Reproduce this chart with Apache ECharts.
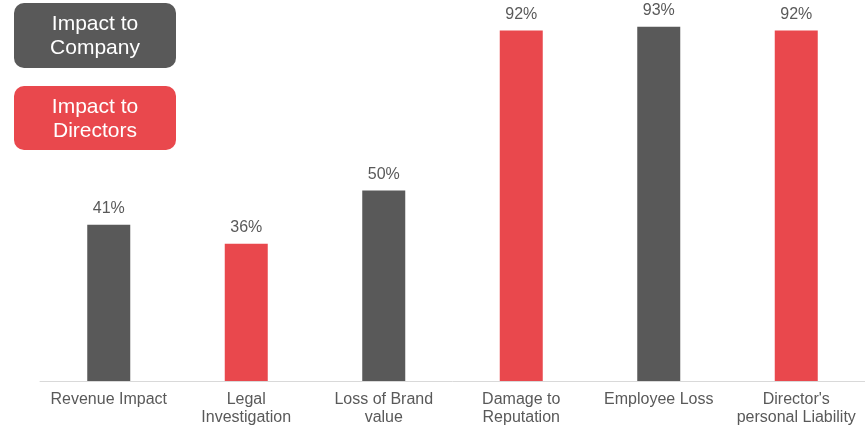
<!DOCTYPE html>
<html>
<head>
<meta charset="utf-8">
<script src="https://cdn.jsdelivr.net/npm/echarts@6/dist/echarts.min.js"></script>
<style>html,body{margin:0;padding:0;background:#fff;}#c{width:865px;height:428px;}</style>
</head>
<body>
<div id="c"></div>
<script>
const categories = ['Revenue Impact', 'Legal\nInvestigation', 'Loss of Brand\nvalue', 'Damage to\nReputation', 'Employee Loss', "Director's\npersonal Liability"];
const values = [41, 36, 50, 92, 93, 92];
const groups = ['Company', 'Directors', 'Company', 'Directors', 'Company', 'Directors'];
const legendLabels = ['Impact to\nCompany', 'Impact to\nDirectors'];

const colorOf = { Company: '#595959', Directors: '#E9484D' };
const font = '"Liberation Sans", Arial, sans-serif';

const chart = echarts.init(document.getElementById('c'));
chart.setOption({
  animation: false,
  grid: { left: 40, right: 0, top: -2, bottom: 47, containLabel: false },
  xAxis: {
    type: 'category',
    data: categories,
    axisLine: { lineStyle: { color: '#D9D9D9', width: 1 } },
    axisTick: { show: false },
    axisLabel: { color: '#595959', fontSize: 16, fontFamily: font, lineHeight: 18, margin: 10, interval: 0 }
  },
  yAxis: { type: 'value', min: 0, max: 100, show: false, splitLine: { show: false } },
  series: [{
    type: 'bar',
    barWidth: 43,
    data: values.map((v, i) => ({ value: v, itemStyle: { color: colorOf[groups[i]] } })),
    label: { show: true, position: 'top', distance: 8, formatter: '{c}%', color: '#595959', fontSize: 16, fontFamily: font }
  }],
  graphic: [
    { type: 'rect', x: 14, y: 3, shape: { width: 162, height: 65, r: 10 }, style: { fill: colorOf.Company } },
    { type: 'text', x: 95, y: 36, style: { text: legendLabels[0], fill: '#fff', font: '21px ' + font, align: 'center', verticalAlign: 'middle', lineHeight: 24 } },
    { type: 'rect', x: 14, y: 86, shape: { width: 162, height: 64, r: 10 }, style: { fill: colorOf.Directors } },
    { type: 'text', x: 95, y: 119, style: { text: legendLabels[1], fill: '#fff', font: '21px ' + font, align: 'center', verticalAlign: 'middle', lineHeight: 24 } }
  ]
});
</script>
</body>
</html>
